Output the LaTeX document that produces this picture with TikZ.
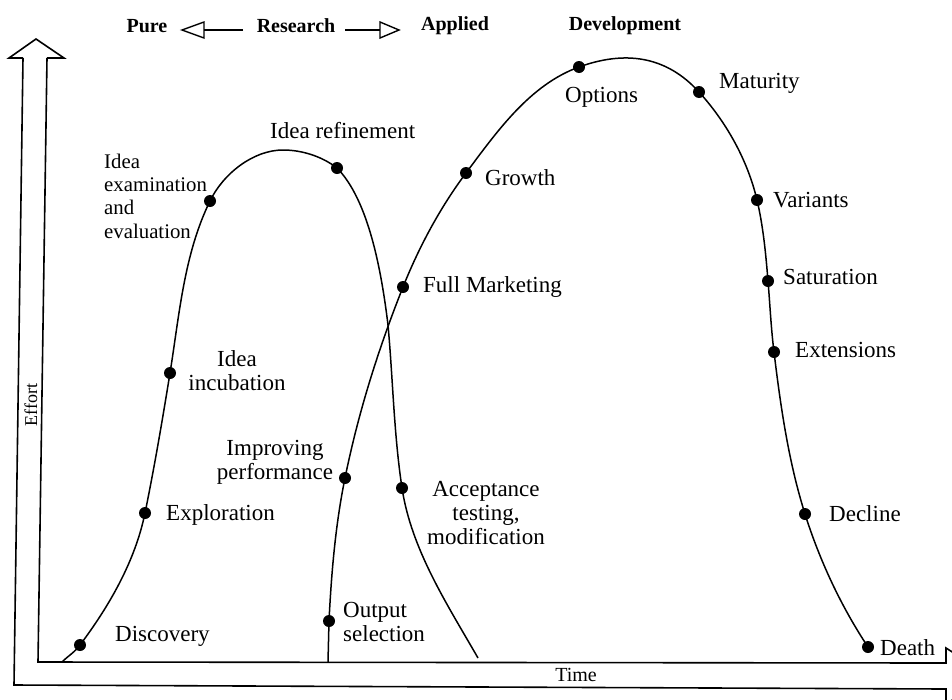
\documentclass[tikz,border=0pt]{standalone}
\usepackage{fontspec}
\setmainfont{Liberation Serif}
\usetikzlibrary{calc}
\begin{document}
\begin{tikzpicture}[x=1pt,y=-1pt,
  lbl/.style={font=\fontsize{23}{24}\selectfont, inner sep=0pt},
  hdr/.style={font=\fontsize{20}{22}\selectfont\bfseries, inner sep=0pt},
  dot/.style={circle, fill=black, inner sep=0pt, minimum size=12pt},
  curve/.style={line width=1.5pt},
  axis/.style={line width=1.6pt, line join=miter},
  hollow/.style={line width=1.4pt, line join=miter}]
\useasboundingbox (0,0) rectangle (952,699);
\clip (0,0) rectangle (952,699);

% ---- axes (hollow double arrows)
\coordinate (aL) at (23,58);
\coordinate (aR) at (47,58);
\coordinate (aHL) at (9,58);
\coordinate (aHR) at (64,58);
\coordinate (aTip) at (36,39);
\coordinate (oBL) at (14,685);
\coordinate (iBL) at (38,662);
\coordinate (iBR) at (946,663);
\coordinate (oBR) at (946,689);
\coordinate (hTop) at (946,648);
\coordinate (hBot) at (946,704);
\coordinate (hTip) at (990,676);
\draw[axis] (aR) -- (aHR) -- (aTip) -- (aHL) -- (aL);
\draw[axis] (aL) -- (oBL) -- (oBR) -- (hBot) -- (hTip);
\draw[axis] (aR) -- (iBL) -- (iBR) -- (hTop) -- (hTip);

\node[font=\fontsize{18}{20}\selectfont, rotate=90, inner sep=0pt] (effort) at (31,405) {Effort};
\node[font=\fontsize{20}{22}\selectfont, inner sep=0pt] (time) at (576,675) {Time};

% ---- header
\node[hdr] (pure) at (147,26) {Pure};
\node[hdr] (research) at (296,26) {Research};
\node[hdr] (applied) at (455,26) {Applied};
\node[hdr] (devel) at (625,26) {Development};
\coordinate (lA1) at (243,30);
\coordinate (lA2) at (204,30);
\coordinate (lT) at (182,30);
\coordinate (rA1) at (345,30);
\coordinate (rA2) at (380,30);
\coordinate (rT) at (399,30);
\draw[hollow] (lA1) -- (lA2);
\draw[hollow] ($(lA2)+(0,-8)$) -- (lT) -- ($(lA2)+(0,8)$) -- cycle;
\draw[hollow] (rA1) -- (rA2);
\draw[hollow] ($(rA2)+(0,-8)$) -- (rT) -- ($(rA2)+(0,8)$) -- cycle;

% ---- research curve
\coordinate (r0) at (62,662);
\coordinate (rDisc) at (80,645);
\coordinate (rExpl) at (145,513);
\coordinate (rInc) at (170,373);
\coordinate (rExam) at (210,201);
\coordinate (rTop) at (283,150);
\coordinate (rRef) at (337,168);
\coordinate (rX) at (388,325);
\coordinate (rAcc) at (402,488);
\coordinate (rEnd) at (478,658);
\draw[curve] (r0)
  .. controls (68,656) and (75,652) .. (rDisc)
  .. controls (109.4,605.8) and (135.2,561) .. (rExpl)
  .. controls (154.4,467) and (162.5,419.5) .. (rInc)
  .. controls (179.4,314.6) and (184,254) .. (rExam)
  .. controls (223,174) and (253,150) .. (rTop)
  .. controls (302,150) and (322,156.4) .. (rRef)
  .. controls (368.5,200) and (381.4,270.5) .. (rX)
  .. controls (393,380) and (393.8,433.5) .. (rAcc)
  .. controls (411.3,549.4) and (447,604) .. (rEnd);

% ---- development curve
\coordinate (d0) at (328,662);
\coordinate (dOut) at (329,621);
\coordinate (dImp) at (345,478);
\coordinate (dFull) at (403,287);
\coordinate (dGrow) at (466,173);
\coordinate (dOpt) at (579,67);
\coordinate (dMat) at (699,92);
\coordinate (dVar) at (757,200);
\coordinate (dSat) at (768,281);
\coordinate (dExt) at (774,352);
\coordinate (dDec) at (805,514);
\coordinate (dDeath) at (868,647);
\draw[curve] (d0) -- (dOut)
  .. controls (331.4,573) and (335.4,525) .. (dImp)
  .. controls (358.4,412.3) and (378.2,349.3) .. (dFull)
  .. controls (419,247) and (440.2,207.4) .. (dGrow)
  .. controls (497,131.4) and (530,84.7) .. (dOpt)
  .. controls (625,50.3) and (666,55.7) .. (dMat)
  .. controls (726.5,122.3) and (747.6,160.2) .. (dVar)
  .. controls (763.2,226.2) and (765.8,254) .. (dSat)
  .. controls (770,305) and (771,328) .. (dExt)
  .. controls (780.6,406.5) and (788.5,461.7) .. (dDec)
  .. controls (819.7,560.6) and (841,606.3) .. (dDeath);

% ---- dots
\foreach \p in {rDisc,rExpl,rInc,rExam,rRef,rAcc,dOut,dImp,dFull,dGrow,dOpt,dMat,dVar,dSat,dExt,dDec,dDeath}
  \node[dot] (n\p) at (\p) {};

% ---- labels
\node[lbl, anchor=west] (lDisc) at (115,636) {Discovery};
\node[lbl, anchor=west] (lExpl) at (166,515) {Exploration};
\node[lbl, align=center] (lInc) at (237,371) {Idea\\incubation};
\node[lbl, anchor=west, align=left, font=\fontsize{20.8}{23.3}\selectfont] (lExam) at (104,196) {Idea\\examination\\and\\evaluation};
\node[lbl, anchor=west] (lRef) at (270,131) {Idea refinement};
\node[lbl, align=center] (lImp) at (275,462) {Improving\\performance};
\node[lbl, anchor=west, align=left] (lOut) at (343,622) {Output\\selection};
\node[lbl, align=center] (lAcc) at (486,513) {Acceptance\\testing,\\modification};
\node[lbl, anchor=west] (lFull) at (423,287) {Full Marketing};
\node[lbl, anchor=west] (lGrow) at (485,178) {Growth};
\node[lbl, anchor=west] (lOpt) at (565,97) {Options};
\node[lbl, anchor=west] (lMat) at (719,83) {Maturity};
\node[lbl, anchor=west] (lVar) at (773,200) {Variants};
\node[lbl, anchor=west] (lSat) at (783,277) {Saturation};
\node[lbl, anchor=west] (lExt) at (795,350) {Extensions};
\node[lbl, anchor=west] (lDec) at (829,514) {Decline};
\node[lbl, anchor=west] (lDeath) at (880,648) {Death};
\end{tikzpicture}
\end{document}
